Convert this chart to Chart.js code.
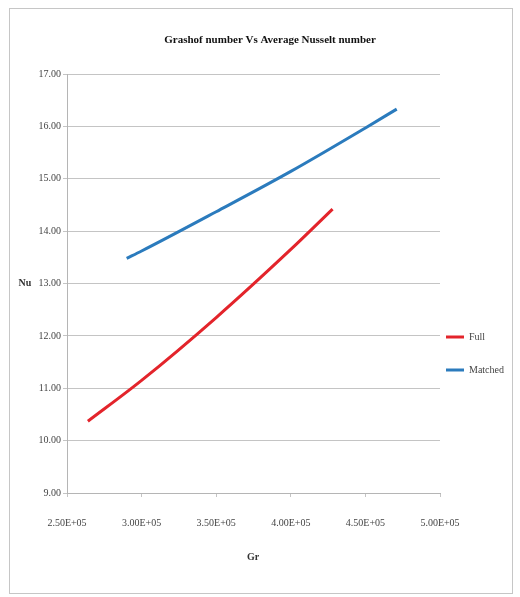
<!DOCTYPE html>
<html>
<head>
<meta charset="utf-8">
<script src="https://cdn.jsdelivr.net/npm/chart.js@4.4.1/dist/chart.umd.min.js"></script>
<style>
    html, body { margin: 0; padding: 0; background: #fff; }
    #wrap { position: relative; width: 520px; height: 597px; }
    #frame { position: absolute; left: 9px; top: 8px; width: 504px; height: 586px; border: 1px solid #c6c6c6; box-sizing: border-box; }
    canvas { position: absolute; left: 0; top: 0; }
</style>
</head>
<body>
<div id="wrap">
    <div id="frame"></div>
    <canvas id="chart" width="520" height="597"></canvas>
</div>
<script>
// values
const seriesNames = ['Full', 'Matched'];
const fullGr = [264000, 300000, 350000, 400000, 428000];
const fullNu = [10.37, 11.15, 12.35, 13.65, 14.42];
const matchedGr = [290000, 300000, 350000, 400000, 450000, 471000];
const matchedNu = [13.48, 13.62, 14.37, 15.14, 15.97, 16.33];

const chartTitle = 'Grashof number Vs Average Nusselt number';
const xTitle = 'Gr';
const yTitle = 'Nu';

const red = '#e3242b';
const blue = '#2b7bbd';

function pts(xs, ys) {
    return xs.map((x, i) => ({ x: x, y: ys[i] }));
}

function fmtSci(v) {
    const exp = Math.floor(Math.log10(v));
    const mant = (v / Math.pow(10, exp)).toFixed(2);
    return `${mant}E+${String(exp).padStart(2, '0')}`;
}

// title, axis titles and legend drawn at fixed spots like the excel export
const textPlugin = {
    id: 'texts',
    afterDraw(chart) {
        const ctx = chart.ctx;
        ctx.save();
        ctx.textBaseline = 'middle';

        ctx.fillStyle = '#111';
        ctx.font = 'bold 11px "Liberation Serif"';
        ctx.textAlign = 'center';
        ctx.fillText(chartTitle, 270, 40);

        ctx.fillStyle = '#333';
        ctx.font = 'bold 10px "Liberation Serif"';
        ctx.fillText(xTitle, 253, 557);
        ctx.fillText(yTitle, 25, 283);

        ctx.font = '10px "Liberation Serif"';
        ctx.textAlign = 'left';
        const legendY = [337, 370];
        chart.data.datasets.forEach((ds, i) => {
            ctx.strokeStyle = ds.borderColor;
            ctx.lineWidth = 3;
            ctx.beginPath();
            ctx.moveTo(446, legendY[i]);
            ctx.lineTo(464, legendY[i]);
            ctx.stroke();
            ctx.fillStyle = '#444';
            ctx.fillText(ds.label, 469, legendY[i]);
        });
        ctx.restore();
    }
};

new Chart(document.getElementById('chart'), {
    type: 'scatter',
    data: {
        datasets: [
            {
                label: seriesNames[0],
                data: pts(fullGr, fullNu),
                showLine: true,
                borderColor: red,
                borderWidth: 3,
                pointRadius: 0,
                cubicInterpolationMode: 'monotone'
            },
            {
                label: seriesNames[1],
                data: pts(matchedGr, matchedNu),
                showLine: true,
                borderColor: blue,
                borderWidth: 3,
                pointRadius: 0,
                cubicInterpolationMode: 'monotone'
            }
        ]
    },
    options: {
        responsive: false,
        animation: false,
        devicePixelRatio: 1,
        layout: { padding: { left: 27, right: 80, top: 74, bottom: 64 } },
        plugins: {
            legend: { display: false },
            tooltip: { enabled: false }
        },
        scales: {
            x: {
                type: 'linear',
                min: 250000,
                max: 500000,
                afterFit: (s) => { s.height = 40; },
                border: { color: '#b5b5b5', width: 1 },
                grid: { drawOnChartArea: false, drawTicks: true, tickLength: 4, color: '#c4c4c4' },
                ticks: {
                    stepSize: 50000,
                    padding: 20,
                    maxRotation: 0,
                    color: '#444',
                    font: { family: 'Liberation Serif', size: 10 },
                    callback: (v) => fmtSci(v)
                }
            },
            y: {
                min: 9,
                max: 17,
                afterFit: (s) => { s.width = 40; },
                border: { color: '#b5b5b5', width: 1 },
                grid: { color: '#c4c4c4', lineWidth: 1, tickLength: 4 },
                ticks: {
                    stepSize: 1,
                    padding: 2,
                    color: '#444',
                    font: { family: 'Liberation Serif', size: 10 },
                    callback: (v) => v.toFixed(2)
                }
            }
        }
    },
    plugins: [textPlugin]
});
</script>
</body>
</html>
